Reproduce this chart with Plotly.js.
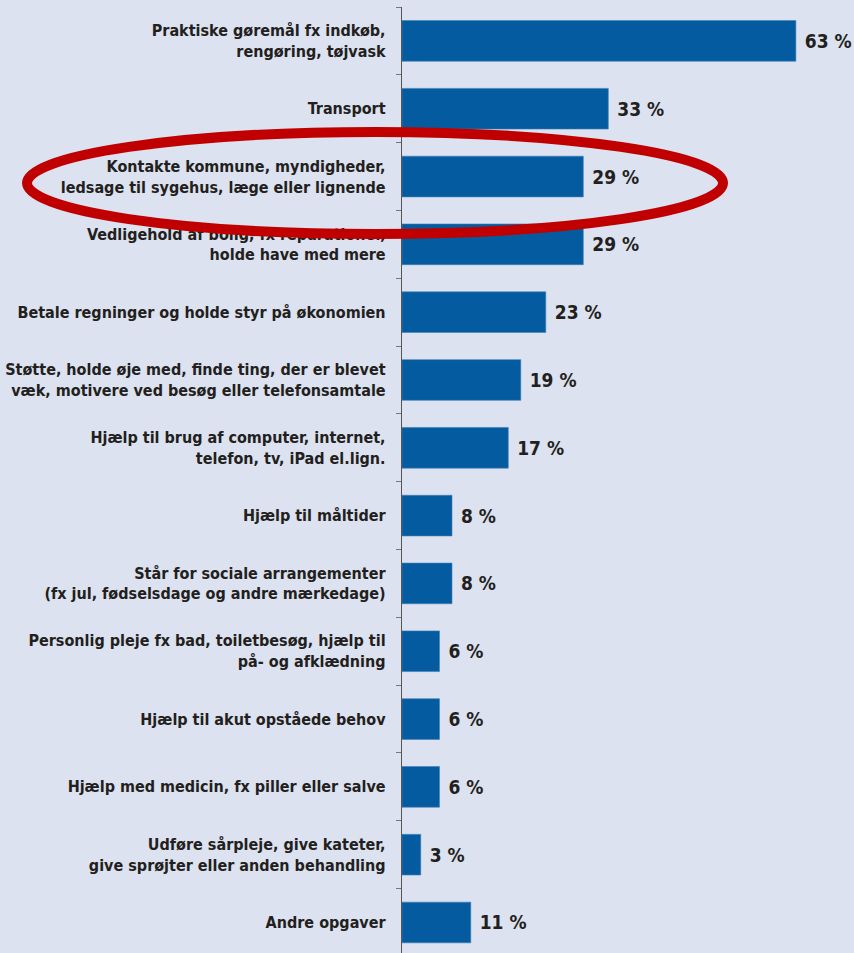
<!DOCTYPE html>
<html>
<head>
<meta charset="utf-8">
<script src="https://cdn.plot.ly/plotly-3.0.1.min.js"></script>
<style>
html,body{margin:0;padding:0;background:#dce2ef;}
#chart{width:854px;height:953px;}
</style>
</head>
<body>
<div id="chart"></div>
<script>
const categories = [
  "Praktiske gøremål fx indkøb,<br>rengøring, tøjvask",
  "Transport",
  "Kontakte kommune, myndigheder,<br>ledsage til sygehus, læge eller lignende",
  "Vedligehold af bolig, fx reparationer,<br>holde have med mere",
  "Betale regninger og holde styr på økonomien",
  "Støtte, holde øje med, finde ting, der er blevet<br>væk, motivere ved besøg eller telefonsamtale",
  "Hjælp til brug af computer, internet,<br>telefon, tv, iPad el.lign.",
  "Hjælp til måltider",
  "Står for sociale arrangementer<br>(fx jul, fødselsdage og andre mærkedage)",
  "Personlig pleje fx bad, toiletbesøg, hjælp til<br>på- og afklædning",
  "Hjælp til akut opståede behov",
  "Hjælp med medicin, fx piller eller salve",
  "Udføre sårpleje, give kateter,<br>give sprøjter eller anden behandling",
  "Andre opgaver"
];
const values = [63, 33, 29, 29, 23, 19, 17, 8, 8, 6, 6, 6, 3, 11];

const FONT = "'Liberation Sans Narrow', 'DejaVu Sans Condensed', 'Roboto', sans-serif";
const TXT = "#231f20";

const trace = {
  type: "bar",
  orientation: "h",
  x: values,
  y: categories,
  marker: {color: "#055b9f", line: {color: "#3f7fb8", width: 0.6}},
  width: 0.6,
  text: values.map(v => "\u00a0" + v + " %"),
  textposition: "outside",
  textfont: {family: FONT, size: 19, color: TXT, weight: "bold"},
  cliponaxis: false,
  hoverinfo: "none"
};

const layout = {
  width: 854,
  height: 953,
  margin: {l: 402, r: 0, t: 7, b: 0, pad: 0},
  paper_bgcolor: "#dce2ef",
  plot_bgcolor: "#dce2ef",
  showlegend: false,
  bargap: 0.4,
  xaxis: {
    range: [0, 72.3],
    visible: false,
    fixedrange: true
  },
  yaxis: {
    type: "category",
    range: [13.45, -0.5],
    showline: true,
    linecolor: "#555555",
    linewidth: 1.2,
    ticks: "outside",
    tickson: "boundaries",
    ticklen: 5,
    tickcolor: "#777777",
    tickwidth: 1,
    ticklabelstandoff: 12,
    showgrid: false,
    zeroline: false,
    tickfont: {family: FONT, size: 16, color: TXT, weight: "bold"},
    fixedrange: true
  },
  shapes: [{
    type: "circle",
    xref: "paper", yref: "paper",
    x0: -0.8296, x1: 0.7102,
    y0: 0.7600, y1: 0.8679,
    line: {color: "#c00000", width: 10},
    fillcolor: "rgba(0,0,0,0)",
    layer: "above"
  }]
};

Plotly.newPlot("chart", [trace], layout, {staticPlot: true, displayModeBar: false});
</script>
</body>
</html>
